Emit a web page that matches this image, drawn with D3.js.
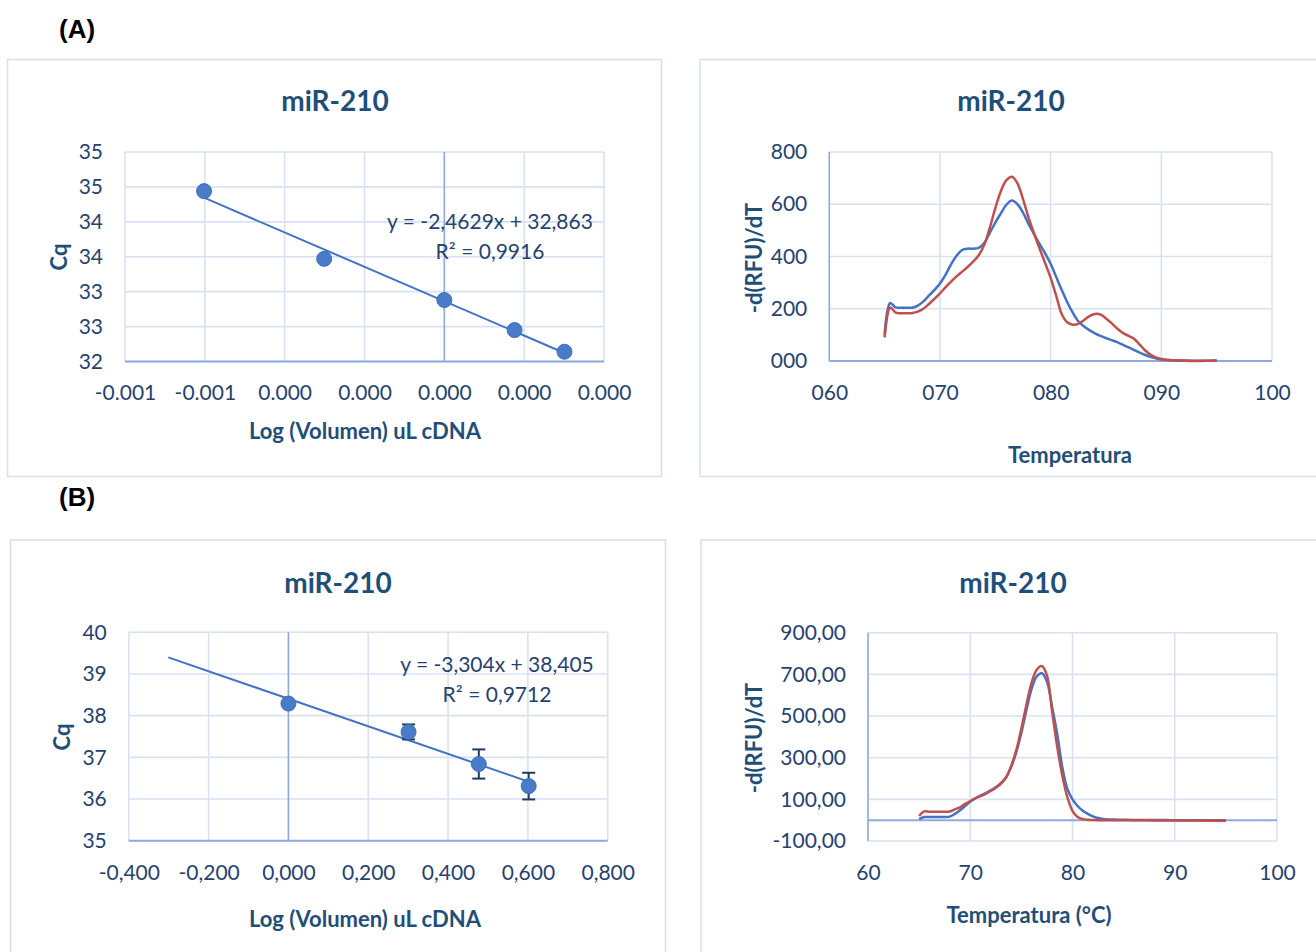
<!DOCTYPE html>
<html>
<head>
<meta charset="utf-8">
<script src="https://cdn.jsdelivr.net/npm/d3@7"></script>
<style>
  body { margin: 0; background: #fff; }
  text { font-family: Lato, "Open Sans", sans-serif; }
</style>
</head>
<body>
<svg id="fig" width="1316" height="952"></svg>
<script>
// ---- (A) standard curve ----
let logVolA = [-0.000602, -0.000301, 0, 0.000176, 0.000301];
let cqA = [34.44, 33.47, 32.88, 32.45, 32.14];
let fitA = [-2.4629, 32.863];           // slope (per 0.001 unit), intercept
let xTicksA = [-0.0008, -0.0006, -0.0004, -0.0002, 0, 0.0002, 0.0004];
let xLabelsA = ["-0.001", "-0.001", "0.000", "0.000", "0.000", "0.000", "0.000"];
let yTicksA = [32, 32.5, 33, 33.5, 34, 34.5, 35];
let yLabelsA = ["32", "33", "33", "34", "34", "35", "35"];

// ---- (A) melt curve ----
let tempA = [65, 65.5, 66, 66.5, 67, 67.5, 68, 68.5, 69, 69.5, 70, 70.5, 71, 71.5, 72, 72.5, 73, 73.5,
             74, 74.5, 75, 75.5, 76, 76.5, 77, 77.5, 78, 78.5, 79, 79.5, 80, 80.5, 81, 81.5, 82, 82.5,
             83, 83.5, 84, 84.5, 85, 85.5, 86, 86.5, 87, 87.5, 88, 88.5, 89, 89.5, 90, 91, 92, 93, 94, 95];
let meltA1 = [100, 222, 205, 204, 204, 204, 212, 228, 250, 272, 297, 330, 370, 403, 425, 430, 430, 433,
              452, 490, 530, 565, 598, 614, 600, 568, 525, 486, 448, 412, 372, 322, 272, 225, 185, 152,
              133, 118, 106, 96, 88, 80, 72, 63, 53, 43, 33, 24, 16, 10, 6, 3, 2, 1, 1, 1];
let meltA2 = [90, 205, 185, 183, 183, 184, 189, 200, 218, 238, 259, 282, 304, 324, 342, 360, 380, 405,
              445, 510, 585, 650, 692, 705, 680, 620, 550, 488, 430, 375, 318, 250, 180, 148, 139, 142,
              156, 172, 180, 178, 163, 145, 125, 108, 97, 86, 65, 42, 25, 14, 8, 3, 1, 0, 1, 3];
let xTicksA2 = [60, 70, 80, 90, 100];
let yTicksA2 = [0, 200, 400, 600, 800];

// ---- (B) standard curve ----
let logVolB = [0, 0.301, 0.477, 0.602];
let cqB = [38.29, 37.61, 36.84, 36.31];
let sdB = [0.03, 0.18, 0.35, 0.32];
let fitB = [-3.304, 38.405];
let fitRangeB = [-0.301, 0.602];
let xTicksB = [-0.4, -0.2, 0, 0.2, 0.4, 0.6, 0.8];
let yTicksB = [35, 36, 37, 38, 39, 40];

// ---- (B) melt curve ----
let tempB = [65, 65.5, 66, 66.5, 67, 67.5, 68, 68.5, 69, 69.5, 70, 70.5, 71, 71.5, 72, 72.5, 73, 73.5,
             74, 74.5, 75, 75.5, 76, 76.5, 77, 77.5, 78, 78.5, 79, 79.5, 80, 80.5, 81, 81.5, 82, 82.5,
             83, 84, 85, 86, 88, 90, 92, 95];
let meltB1 = [5, 15, 15, 15, 15, 15, 17, 30, 48, 68, 88, 105, 118, 130, 143, 158, 178, 205,
              255, 325, 420, 530, 630, 690, 705, 665, 545, 415, 255, 150, 100, 68, 45, 30, 18, 10,
              6, 3, 2, 1, 1, 0, 0, 0];
let meltB2 = [20, 42, 40, 40, 40, 40, 42, 52, 62, 78, 92, 105, 115, 127, 140, 156, 176, 205,
              260, 335, 440, 555, 660, 722, 740, 695, 525, 355, 215, 110, 45, 15, 5, 2, 1, 0,
              0, 0, 0, 0, -1, -1, -2, -3];
let xTicksB2 = [60, 70, 80, 90, 100];
let yTicksB2 = [-100, 100, 300, 500, 700, 900];

let titleText = "miR-210";

// ---- styles ----
let txt = "#25426f";
let bold = "#1f4e79";
let grid = "#d9e2f3";
let axisCol = "#8eaadb";
let blue = "#4472c4";
let red = "#c0504d";

let svg = d3.select("#fig");
let comma = d => d.toString().replace(".", ",").replace("\u2212", "-");

function panel(o) {
  let g = svg.append("g");

  g.append("rect")
   .attr("x", o.frame[0]).attr("y", o.frame[1])
   .attr("width", o.frame[2]).attr("height", o.frame[3])
   .attr("fill", "none").attr("stroke", "#d5dff0").attr("stroke-width", 1.5);

  let x = d3.scaleLinear().domain(o.xDom).range([o.l, o.r]);
  let y = d3.scaleLinear().domain(o.yDom).range([o.b, o.t]);

  g.selectAll(".vg").data(o.xTicks).enter().append("line")
   .attr("x1", d => x(d)).attr("x2", d => x(d))
   .attr("y1", o.t).attr("y2", o.b)
   .attr("stroke", grid).attr("stroke-width", 1.6);
  g.selectAll(".hg").data(o.yTicks).enter().append("line")
   .attr("x1", o.l).attr("x2", o.r)
   .attr("y1", d => y(d)).attr("y2", d => y(d))
   .attr("stroke", grid).attr("stroke-width", 1.6);

  // axis lines
  g.append("line")
   .attr("x1", o.l).attr("x2", o.r)
   .attr("y1", y(o.xAxisAt)).attr("y2", y(o.xAxisAt))
   .attr("stroke", axisCol).attr("stroke-width", 2);
  g.append("line")
   .attr("x1", x(o.yAxisAt)).attr("x2", x(o.yAxisAt))
   .attr("y1", o.t).attr("y2", o.b)
   .attr("stroke", axisCol).attr("stroke-width", 1.5);

  let ax = g.append("g")
            .attr("transform", "translate(0," + o.b + ")")
            .call(d3.axisBottom(x).tickValues(o.xTicks).tickFormat(o.xFmt)
                    .tickSize(0).tickPadding(24));
  let ay = g.append("g")
            .attr("transform", "translate(" + o.l + ",0)")
            .call(d3.axisLeft(y).tickValues(o.yTicks).tickFormat(o.yFmt)
                    .tickSize(0).tickPadding(22));
  [ax, ay].forEach(a => {
    a.select(".domain").remove();
    a.selectAll("text").attr("fill", txt).style("font-size", "21px")
     .style("font-family", "Lato, sans-serif");
  });

  g.append("text")
   .attr("x", o.title[0]).attr("y", o.title[1])
   .attr("text-anchor", "middle").attr("dominant-baseline", "central")
   .attr("fill", bold).style("font-size", "28px").style("font-weight", "bold")
   .text(titleText);

  g.append("text")
   .attr("x", o.xTitle[0]).attr("y", o.xTitle[1])
   .attr("text-anchor", "middle").attr("dominant-baseline", "central")
   .attr("fill", bold).style("font-size", "22px").style("font-weight", "bold")
   .text(o.xLabel);

  g.append("text")
   .attr("transform", "translate(" + o.yTitle[0] + "," + o.yTitle[1] + ") rotate(-90)")
   .attr("text-anchor", "middle").attr("dominant-baseline", "central")
   .attr("fill", bold).style("font-size", "22px").style("font-weight", "bold")
   .text(o.yLabel);

  return {g, x, y};
}

function scatter(p, xs, ys, fit, fitX, scale, eq, sd) {
  let line = d3.line().x(d => p.x(d)).y(d => p.y(fit[0] * d * scale + fit[1]));
  p.g.append("path").datum(fitX).attr("d", line)
     .attr("fill", "none").attr("stroke", blue).attr("stroke-width", 2);

  if (sd) {
    let eb = p.g.selectAll(".eb").data(xs).enter().append("g");
    eb.append("line")
      .attr("x1", d => p.x(d)).attr("x2", d => p.x(d))
      .attr("y1", (d, i) => p.y(ys[i] - sd[i])).attr("y2", (d, i) => p.y(ys[i] + sd[i]))
      .attr("stroke", "#1f3864").attr("stroke-width", 2);
    [-1, 1].forEach(s => {
      eb.append("line")
        .attr("x1", d => p.x(d) - 6.5).attr("x2", d => p.x(d) + 6.5)
        .attr("y1", (d, i) => p.y(ys[i] + s * sd[i])).attr("y2", (d, i) => p.y(ys[i] + s * sd[i]))
        .attr("stroke", "#1f3864").attr("stroke-width", 2);
    });
  }

  p.g.selectAll(".pt").data(xs).enter().append("circle")
     .attr("cx", d => p.x(d)).attr("cy", (d, i) => p.y(ys[i]))
     .attr("r", 7.5).attr("fill", "#4a7bc8").attr("stroke", "#4070bb").attr("stroke-width", 1);

  p.g.append("text")
     .attr("x", eq.x).attr("y", eq.y)
     .attr("text-anchor", "middle").attr("dominant-baseline", "central")
     .attr("fill", txt).style("font-size", "21px")
     .text("y = " + comma(fit[0]) + "x + " + comma(fit[1]));
  p.g.append("text")
     .attr("x", eq.x).attr("y", eq.y + 30)
     .attr("text-anchor", "middle").attr("dominant-baseline", "central")
     .attr("fill", txt).style("font-size", "21px")
     .text("R² = " + eq.r2);
}

function melt(p, temps, series, cols) {
  series.forEach((s, k) => {
    let line = d3.line()
                 .x((d, i) => p.x(temps[i]))
                 .y(d => p.y(d))
                 .curve(d3.curveCatmullRom.alpha(0.5));
    p.g.append("path").datum(s).attr("d", line)
       .attr("fill", "none").attr("stroke", cols[k]).attr("stroke-width", 2.5);
  });
}

// panel labels
svg.append("text").attr("x", 59).attr("y", 38)
   .style("font-family", "'Liberation Sans', Arial, sans-serif")
   .style("font-size", "26px").style("font-weight", "bold").text("(A)");
svg.append("text").attr("x", 59).attr("y", 506)
   .style("font-family", "'Liberation Sans', Arial, sans-serif")
   .style("font-size", "26px").style("font-weight", "bold").text("(B)");

// A - standard curve
let pA = panel({
  frame: [7.5, 59.5, 654, 417],
  l: 125, r: 604, t: 152, b: 361.5,
  xDom: [-0.0008, 0.0004], yDom: [32, 35],
  xTicks: xTicksA, yTicks: yTicksA,
  xFmt: (d, i) => xLabelsA[i], yFmt: (d, i) => yLabelsA[i],
  xAxisAt: 32, yAxisAt: 0,
  title: [335, 100], xTitle: [365, 430], yTitle: [58, 257],
  xLabel: "Log (Volumen) uL cDNA", yLabel: "Cq"
});
scatter(pA, logVolA, cqA, fitA, [logVolA[0], logVolA[4]], 1000,
        {x: 490, y: 220, r2: "0,9916"});

// A - melt curve
let pA2 = panel({
  frame: [700, 59.5, 640, 417],
  l: 829.3, r: 1272, t: 152, b: 361,
  xDom: [60, 100], yDom: [0, 800],
  xTicks: xTicksA2, yTicks: yTicksA2,
  xFmt: d3.format("03d"), yFmt: d3.format("03d"),
  xAxisAt: 0, yAxisAt: 60,
  title: [1011, 100], xTitle: [1070, 454], yTitle: [753, 258],
  xLabel: "Temperatura", yLabel: "-d(RFU)/dT"
});
melt(pA2, tempA, [meltA1, meltA2], [blue, red]);

// B - standard curve
let pB = panel({
  frame: [10.5, 540, 655, 440],
  l: 128.8, r: 607.7, t: 632.3, b: 840.7,
  xDom: [-0.4, 0.8], yDom: [35, 40],
  xTicks: xTicksB, yTicks: yTicksB,
  xFmt: d => comma(d3.format(".3f")(d)), yFmt: d3.format("d"),
  xAxisAt: 35, yAxisAt: 0,
  title: [338, 582], xTitle: [365, 918], yTitle: [61, 737],
  xLabel: "Log (Volumen) uL cDNA", yLabel: "Cq"
});
scatter(pB, logVolB, cqB, fitB, fitRangeB, 1,
        {x: 497, y: 663, r2: "0,9712"}, sdB);

// B - melt curve
let pB2 = panel({
  frame: [701, 540, 640, 440],
  l: 868, r: 1277, t: 632.7, b: 841,
  xDom: [60, 100], yDom: [-100, 900],
  xTicks: xTicksB2, yTicks: yTicksB2,
  xFmt: d3.format("d"), yFmt: d => comma(d3.format(".2f")(d)),
  xAxisAt: 0, yAxisAt: 60,
  title: [1013, 582], xTitle: [1029, 914], yTitle: [753, 738],
  xLabel: "Temperatura (°C)", yLabel: "-d(RFU)/dT"
});
melt(pB2, tempB, [meltB1, meltB2], [blue, red]);
</script>
</body>
</html>
